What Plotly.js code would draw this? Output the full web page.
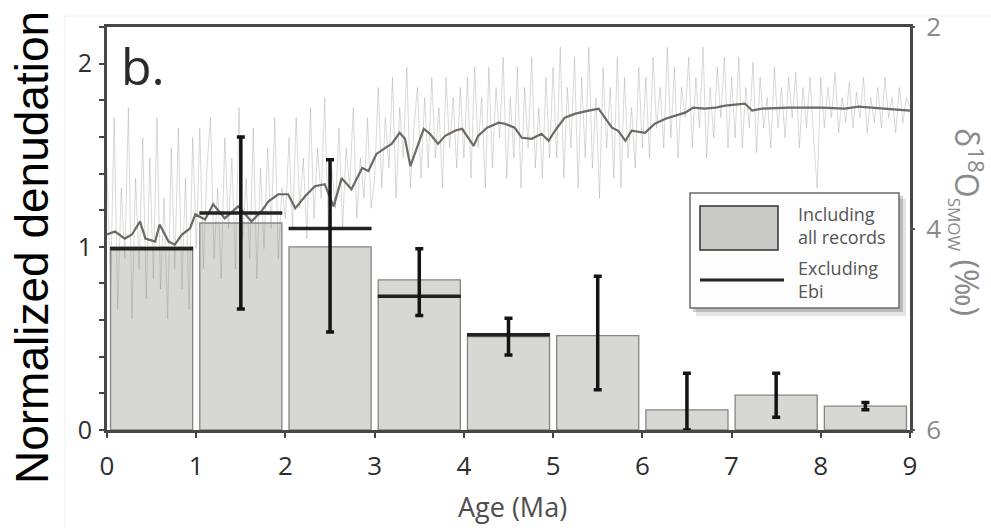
<!DOCTYPE html>
<html>
<head>
<meta charset="utf-8">
<script src="https://cdn.plot.ly/plotly-3.0.1.min.js"></script>
<style>html,body{margin:0;padding:0;background:#fff;}#chart{width:991px;height:528px;}</style>
</head>
<body>
<div id="chart"></div>
<script>
// ---- Data ----
const binCenters = [0.5, 1.5, 2.5, 3.5, 4.5, 5.5, 6.5, 7.5, 8.5];
const denudAll = [1.00, 1.13, 1.00, 0.82, 0.51, 0.515, 0.11, 0.19, 0.13];
const denudExclEbi = [0.99, 1.185, 1.10, 0.73, 0.52, null, null, null, null];
const errLow = [null, 0.66, 0.535, 0.625, 0.41, 0.22, 0.0, 0.07, 0.11];
const errHigh = [null, 1.60, 1.475, 0.99, 0.61, 0.84, 0.31, 0.31, 0.15];

const xTickVals = [0, 1, 2, 3, 4, 5, 6, 7, 8, 9];
const xTickText = ['0', '1', '2', '3', '4', '5', '6', '7', '8', '9'];
const yTickVals = [0, 1, 2];
const yTickText = ['0', '1', '2'];
const yMinorStep = 0.2;
const y2TickVals = [2, 4, 6];
const y2TickText = ['2', '4', '6'];

// smoothed d18O record (per mil SMOW)
const smoothAge = [0.00,0.09,0.20,0.28,0.37,0.43,0.54,0.59,0.69,0.76,0.84,0.93,0.99,1.10,1.19,1.32,1.47,1.62,1.73,1.81,
  1.92,2.03,2.11,2.22,2.33,2.44,2.54,2.63,2.74,2.86,2.93,3.02,3.12,3.19,3.28,3.34,3.40,3.47,3.55,3.62,
  3.71,3.79,3.90,3.98,4.11,4.16,4.26,4.39,4.46,4.57,4.65,4.76,4.87,4.95,5.02,5.13,5.25,5.40,5.51,5.58,
  5.66,5.73,5.81,5.88,6.03,6.14,6.26,6.37,6.48,6.57,6.70,6.82,6.93,7.15,7.23,7.34,7.64,8.01,8.27,8.42,
  8.72,9.00];
const smoothD18O = [4.06,4.03,4.10,4.06,3.93,4.10,4.13,3.96,4.13,4.16,4.06,4.00,3.86,3.91,3.76,3.90,3.78,3.93,3.83,3.73,
  3.66,3.66,3.80,3.68,3.58,3.56,3.78,3.50,3.61,3.40,3.43,3.26,3.20,3.16,3.05,3.11,3.38,3.20,3.01,3.06,
  3.16,3.08,3.03,3.01,3.18,3.08,3.00,2.95,2.96,3.00,3.10,3.11,3.06,3.13,3.03,2.90,2.86,2.83,2.81,2.90,
  3.00,3.03,3.13,3.03,3.05,2.96,2.91,2.88,2.85,2.80,2.81,2.80,2.78,2.76,2.83,2.81,2.80,2.80,2.81,2.79,
  2.81,2.83];

// raw d18O record, sampled every 0.04 Ma from 0 Ma
const rawStart = 0;
const rawStep = 0.04;
const rawD18O = [
  3.4,4.6,2.9,4.8,3.6,4.3,2.8,4.9,3.5,4.4,3.1,4.7,3.3,4.5,2.9,4.6,3.7,4.9,3.2,4.4,3.0,4.6,3.5,4.8,3.1,
  4.2,3.0,4.4,3.4,2.9,4.3,3.6,4.5,3.1,4.0,3.3,4.4,2.8,4.1,3.5,4.3,3.0,4.5,3.4,4.2,3.2,4.0,2.9,4.3,3.6,
  3.9,3.1,4.0,2.9,3.8,3.3,4.1,2.8,3.9,3.2,3.7,2.7,4.0,3.4,3.8,3.0,4.0,3.2,3.6,2.8,3.9,3.3,3.7,2.9,3.8,
  3.5,2.6,3.6,2.9,3.4,2.5,3.7,2.8,3.3,2.4,3.6,3.0,2.6,3.5,2.7,3.4,2.5,3.3,2.8,3.6,2.5,3.2,2.7,3.4,2.6,
  3.3,2.5,3.5,2.4,3.2,2.7,3.6,2.4,3.4,2.6,3.1,2.3,3.5,2.7,3.3,2.4,3.6,2.6,3.2,2.3,3.4,2.8,3.5,2.5,3.3,
  2.4,3.3,2.2,3.5,2.6,3.2,2.3,3.6,2.5,3.3,2.2,3.4,2.7,3.7,2.4,3.2,2.6,3.5,2.3,3.6,2.5,3.3,2.8,3.4,2.4,
  3.2,2.5,3.3,2.3,3.0,2.6,3.2,2.2,3.1,2.4,3.3,2.6,2.9,2.3,3.2,2.5,3.0,2.2,3.3,2.6,3.1,2.4,2.9,2.3,3.2,
  2.5,3.1,2.3,3.2,2.6,3.0,2.35,3.25,2.5,3.0,2.7,3.2,2.4,3.0,2.6,3.1,2.5,2.9,2.45,3.2,2.6,3.0,2.5,3.1,3.6,
  2.5,3.0,2.6,2.9,2.45,3.05,2.7,2.95,2.55,3.0,2.65,2.9,2.5,3.05,2.7,2.95,2.6,3.0,2.5,2.9,2.7,3.05,2.6,2.95,2.7,
  2.8];

// ---- Helpers (layout in pixel -> paper) ----
const L = 107, R = 910, T = 27, B = 430;
const px = v => (v - L) / (R - L);
const py = v => (B - v) / (B - T);

const errPlus = denudAll.map((v, i) => errHigh[i] == null ? null : errHigh[i] - v);
const errMinus = denudAll.map((v, i) => errLow[i] == null ? null : v - errLow[i]);
const errY = denudAll.map((v, i) => errHigh[i] == null ? null : v);

const traces = [
  {
    type: 'bar', x: binCenters, y: denudAll, width: 0.92,
    marker: { color: '#d7d7d4', line: { color: '#858583', width: 1.3 } },
    xaxis: 'x', yaxis: 'y', hoverinfo: 'skip', showlegend: false
  },
  {
    type: 'scatter', mode: 'lines', x0: rawStart, dx: rawStep, y: rawD18O,
    line: { color: 'rgba(140,140,140,0.33)', width: 1 },
    xaxis: 'x', yaxis: 'y2', hoverinfo: 'skip', showlegend: false
  },
  {
    type: 'scatter', mode: 'lines', x: smoothAge, y: smoothD18O,
    line: { color: '#6f6863', width: 2.2 },
    xaxis: 'x', yaxis: 'y2', hoverinfo: 'skip', showlegend: false
  },
  {
    type: 'scatter', mode: 'markers', x: binCenters, y: denudExclEbi,
    marker: { size: 1, opacity: 0 },
    error_x: { type: 'constant', value: 0.465, width: 0, thickness: 3.5, color: '#222' },
    xaxis: 'x', yaxis: 'y3', hoverinfo: 'skip', showlegend: false
  },
  {
    type: 'scatter', mode: 'markers', x: binCenters, y: errY,
    marker: { size: 1, opacity: 0 },
    error_y: { type: 'data', symmetric: false, array: errPlus, arrayminus: errMinus,
               width: 4, thickness: 3.5, color: '#141414' },
    xaxis: 'x', yaxis: 'y3', hoverinfo: 'skip', showlegend: false
  }
];

const tickFont = { family: 'Open Sans, Lato, sans-serif', size: 26, color: '#2e2e2e' };

const layout = {
  width: 991, height: 528,
  margin: { l: L, r: 991 - R, t: T, b: 528 - B },
  paper_bgcolor: '#ffffff', plot_bgcolor: '#ffffff',
  showlegend: false,
  bargap: 0,
  xaxis: {
    range: [0, 9], tickvals: xTickVals, ticktext: xTickText,
    showline: true, mirror: true, linecolor: '#474747', linewidth: 3,
    ticks: 'outside', ticklen: 5, tickwidth: 2, tickcolor: '#444',
    showgrid: false, zeroline: false, tickfont: tickFont, ticklabelstandoff: 6
  },
  yaxis: {
    range: [0, 2.2], tickvals: yTickVals, ticktext: yTickText,
    showline: true, mirror: true, linecolor: '#474747', linewidth: 3,
    ticks: 'outside', ticklen: 5, tickwidth: 2, tickcolor: '#444',
    minor: { tick0: 0, dtick: yMinorStep, ticks: 'outside', ticklen: 5, tickwidth: 2,
             tickcolor: '#444', showgrid: false },
    showgrid: false, zeroline: false,
    tickfont: { family: 'Open Sans, Lato, sans-serif', size: 25, color: '#2e2e2e' },
    ticklabelstandoff: 2
  },
  yaxis2: {
    overlaying: 'y', side: 'right', range: [6, 2],
    tickvals: y2TickVals, ticktext: y2TickText,
    showline: false, ticks: 'outside', ticklen: 4, tickwidth: 2, tickcolor: '#555',
    showgrid: false, zeroline: false,
    tickfont: { family: 'Open Sans, Lato, sans-serif', size: 26, color: '#8a8a8a' },
    ticklabelstandoff: 6
  },
  yaxis3: { overlaying: 'y', range: [0, 2.2], visible: false },
  shapes: [
    // faint outer frame of the original figure
    { type: 'line', xref: 'paper', yref: 'paper', x0: px(65), x1: px(65), y0: py(16), y1: py(528),
      line: { color: '#efefef', width: 1 } },
    { type: 'line', xref: 'paper', yref: 'paper', x0: px(65), x1: px(991), y0: py(16), y1: py(16),
      line: { color: '#efefef', width: 1 } },
    // legend shadow
    { type: 'rect', xref: 'paper', yref: 'paper', x0: px(696), x1: px(906), y0: py(199), y1: py(316),
      fillcolor: 'rgba(0,0,0,0.10)', line: { width: 0 } },
    { type: 'rect', xref: 'paper', yref: 'paper', x0: px(693), x1: px(903), y0: py(196), y1: py(312),
      fillcolor: 'rgba(0,0,0,0.18)', line: { width: 0 } },
    // legend box
    { type: 'rect', xref: 'paper', yref: 'paper', x0: px(690), x1: px(899), y0: py(193), y1: py(308),
      fillcolor: '#fdfdfd', line: { color: '#6a6a6a', width: 1.5 } },
    // legend bar swatch
    { type: 'rect', xref: 'paper', yref: 'paper', x0: px(700), x1: px(778), y0: py(206), y1: py(250),
      fillcolor: '#c9c9c7', line: { color: '#333', width: 1.5 } },
    // legend line swatch
    { type: 'line', xref: 'paper', yref: 'paper', x0: px(700), x1: px(784), y0: py(280), y1: py(280),
      line: { color: '#222', width: 3 } }
  ],
  annotations: [
    { xref: 'paper', yref: 'paper', x: px(796), y: py(225), xanchor: 'left', yanchor: 'middle',
      text: 'Including<br>all records', showarrow: false, align: 'left',
      font: { family: 'Open Sans, Lato, sans-serif', size: 18, color: '#555' } },
    { xref: 'paper', yref: 'paper', x: px(796), y: py(279), xanchor: 'left', yanchor: 'middle',
      text: 'Excluding<br>Ebi', showarrow: false, align: 'left',
      font: { family: 'Open Sans, Lato, sans-serif', size: 18, color: '#555' } },
    { xref: 'paper', yref: 'paper', x: px(119), y: py(66), xanchor: 'left', yanchor: 'middle',
      text: 'b.', showarrow: false,
      font: { family: 'Open Sans, Lato, sans-serif', size: 50, color: '#2a2a2a' } },
    { xref: 'paper', yref: 'paper', x: px(31.5), y: py(247.5), xanchor: 'center', yanchor: 'middle',
      text: 'Normalized denudation', textangle: -90, showarrow: false,
      font: { family: 'Liberation Sans, Arial, sans-serif', size: 46, color: '#000' } },
    { xref: 'paper', yref: 'paper', x: px(512), y: py(506), xanchor: 'center', yanchor: 'middle',
      text: 'Age (Ma)', showarrow: false,
      font: { family: 'Open Sans, Lato, sans-serif', size: 27, color: '#4e4e4e' } },
    { xref: 'paper', yref: 'paper', x: px(968), y: py(222), xanchor: 'center', yanchor: 'middle',
      text: 'δ<sup>18</sup>O<sub><span style="font-size:17px">SMOW</span></sub> (‰)',
      textangle: 90, showarrow: false,
      font: { family: 'Open Sans, Lato, sans-serif', size: 32, color: '#8a8a8a' } }
  ]
};

Plotly.newPlot('chart', traces, layout, { staticPlot: true, displayModeBar: false });
</script>
</body>
</html>
